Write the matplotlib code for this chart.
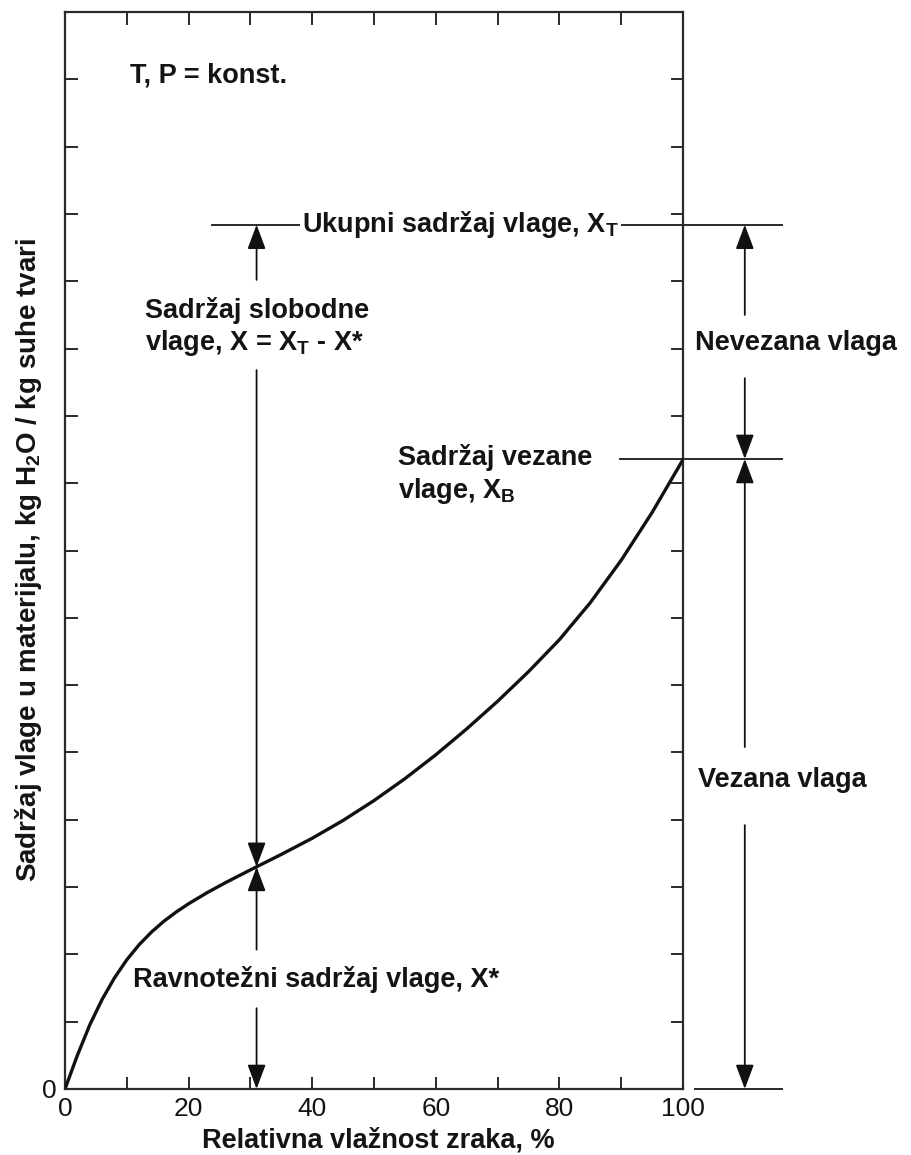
import matplotlib
matplotlib.use("Agg")
import matplotlib.pyplot as plt
from matplotlib import font_manager

# ---------------- data ----------------
rh = [0, 2, 4, 6, 8, 10, 12, 14, 16, 18, 20, 23, 26, 30, 35, 40, 45,
      50, 55, 60, 65, 70, 75, 80, 85, 90, 95, 100]
moisture = [0, 0.50, 0.95, 1.33, 1.65, 1.92, 2.144, 2.332, 2.492, 2.63, 2.752,
            2.917, 3.067, 3.255, 3.485, 3.725, 3.99, 4.285, 4.61, 4.965, 5.35,
            5.76, 6.20, 6.675, 7.225, 7.855, 8.565, 9.35]
x_ticks = [0, 10, 20, 30, 40, 50, 60, 70, 80, 90, 100]
x_ticklabels = ["0", "", "20", "", "40", "", "60", "", "80", "", "100"]
y_ticks = list(range(0, 17))
X_T = 12.84        # total moisture content
X_B = 9.36         # bound moisture content
rh_point = 31      # relative humidity of the marked point
X_star = 3.3       # equilibrium moisture at rh_point

# ---------------- fonts ----------------
avail = {f.name for f in font_manager.fontManager.ttflist}
main_font = ["Liberation Sans", "DejaVu Sans"]
narrow_font = (["Liberation Sans Narrow"] if "Liberation Sans Narrow" in avail else []) + main_font
plt.rcParams["font.family"] = main_font
plt.rcParams["mathtext.fontset"] = "custom"
plt.rcParams["mathtext.rm"] = "Liberation Sans"
plt.rcParams["mathtext.bf"] = "Liberation Sans:bold"

TXT = "#141414"
LINE = "#2a2a2a"
FS = 19.5

fig = plt.figure(figsize=(9.11, 11.55), dpi=100)
ax = fig.add_axes([65 / 911, 1 - 1089 / 1155, (683 - 65) / 911, (1089 - 12) / 1155])
ax.set_xlim(0, 100)
ax.set_ylim(0, 16)

for s in ax.spines.values():
    s.set_linewidth(1.6)
    s.set_color(LINE)

ax.set_xticks(x_ticks)
ax.set_xticklabels(x_ticklabels, fontfamily=narrow_font, fontsize=19, color=TXT)
ax.set_yticks(y_ticks)
ax.set_yticklabels(["0"] + [""] * (len(y_ticks) - 1), fontfamily=narrow_font,
                   fontsize=19, color=TXT)
ax.tick_params(axis="x", direction="in", length=9, width=1.4, color=LINE,
               top=True, pad=6)
ax.tick_params(axis="y", direction="in", length=9, width=1.4, color=LINE,
               right=True, pad=6)

# curve
ax.plot(rh, moisture, color="#111111", lw=2.4, solid_capstyle="round",
        solid_joinstyle="round", zorder=4)

# helper for arrows
def arrow(x, y_tail, y_head):
    ax.annotate("", xy=(x, y_head), xytext=(x, y_tail), xycoords="data",
                arrowprops=dict(arrowstyle="-|>,head_length=0.75,head_width=0.28",
                                lw=1.3, color="#111111", shrinkA=0, shrinkB=0,
                                mutation_scale=20),
                annotation_clip=False, zorder=3)

hl = dict(color=LINE, lw=1.4, clip_on=False, zorder=2)
# horizontal reference lines
ax.plot([23.8, 116], [X_T, X_T], **hl)
ax.plot([89.8, 116], [X_B, X_B], **hl)
ax.plot([102, 116], [0, 0], **hl)

# left arrows (x = rh_point)
arrow(rh_point, 12.02, X_T)
arrow(rh_point, 10.68, X_star)
arrow(rh_point, 2.07, X_star)
arrow(rh_point, 1.20, 0)

# right arrows
xr = 110
arrow(xr, 11.5, X_T)
arrow(xr, 10.56, X_B)
arrow(xr, 5.08, X_B)
arrow(xr, 3.92, 0)

tk = dict(fontsize=FS, fontweight="bold", color=TXT, clip_on=False)
ax.text(10.5, 15.06, "T, P = konst.", ha="left", va="center", **tk)
ax.text(38.4, X_T, r"Ukupni sadržaj vlage, X$_\mathregular{T}$", ha="left",
        va="center", zorder=5,
        bbox=dict(fc="white", ec="none", pad=1.5), **tk)
ax.text(rh_point, 11.31, "Sadržaj slobodne\n" + r"vlage, X = X$_\mathregular{T}$ - X*",
        ha="center", va="center", multialignment="left", **tk)
ax.text(53.9, 9.12, "Sadržaj vezane\n" + r"vlage, X$_\mathregular{B}$",
        ha="left", va="center", multialignment="left", **tk)
ax.text(102, 11.08, "Nevezana vlaga", ha="left", va="center", **tk)
ax.text(102.4, 4.59, "Vezana vlaga", ha="left", va="center", **tk)
ax.text(11.0, 1.63, "Ravnotežni sadržaj vlage, X*", ha="left", va="center", **tk)

fig.text(29 / 911, 1 - 560 / 1155,
         r"Sadržaj vlage u materijalu, kg H$_\mathregular{2}$O / kg suhe tvari",
         rotation=90, ha="center", va="center", fontsize=20, fontweight="bold",
         color=TXT)
fig.text(378 / 911, 1 - 1140 / 1155, "Relativna vlažnost zraka, %",
         ha="center", va="center", fontsize=FS, fontweight="bold", color=TXT)

fig.savefig("out.png", dpi=100, facecolor="white")
